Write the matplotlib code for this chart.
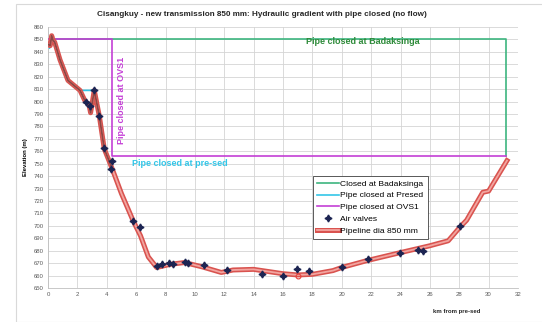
"""
Cisangkuy transmission 850 mm - hydraulic gradient with pipe closed (no flow)
"""

import matplotlib
matplotlib.use('Agg')
import matplotlib.pyplot as plt
import matplotlib.patheffects as pe
from matplotlib.patches import Rectangle
import numpy as np

plt.rcParams['font.family'] = ['Liberation Sans', 'DejaVu Sans']

# ---------- data ----------
pipe_km = np.array([0, 0.15, 0.25, 0.35, 0.45, 0.82, 1.36, 2.18, 2.5, 2.8, 2.9, 3.15, 3.5,
                    3.83, 4.2, 4.4, 5.0, 5.8, 6.3, 6.83, 7.4, 8.3, 9.3, 10.5, 11.8, 12.6,
                    14.0, 16.0, 17.0, 18.0, 19.4, 20.0, 21.7, 24.0, 26.0, 27.25, 28.05,
                    28.5, 29.6, 30.0, 31.25])
pipe_elev = np.array([846, 845, 853, 849, 848, 833.5, 817, 809, 801, 797, 791, 809, 788,
                      762, 751, 745, 726, 704, 692, 675, 666.5, 669, 670.5, 667, 662.5, 664.5,
                      665, 661.5, 660.5, 661, 664, 666.5, 672, 678.5, 684, 688, 699,
                      704.5, 727, 728, 752.5])

valve_km = [2.59, 2.86, 3.15, 3.49, 3.83, 4.29, 4.38, 5.81, 6.26, 7.4, 7.78, 8.23, 8.53,
            9.33, 9.5, 10.6, 12.16, 14.6, 16.0, 16.97, 17.8, 20.0, 21.8, 23.96, 25.17,
            25.55, 28.05]
valve_elev = [800, 796.5, 809, 788.5, 762.5, 746, 752.5, 704, 699, 667.5, 669, 670, 669,
              671, 670.5, 668.5, 664.5, 661.3, 660, 665, 663.5, 666.7, 673, 678.5, 680.5,
              680, 700]

marker_km = [17.0]
marker_elev = [659.7]

badaksinga_km = [0, 31.2, 31.2]
badaksinga_elev = [850, 850, 756]

presed_km = [0.1, 0.2, 0.35, 0.82, 1.36, 2.18, 3.15, 3.5, 3.8, 4.22]
presed_elev = [843, 849, 848, 833.5, 817, 809, 809, 788, 763, 752]

ovs1_km = [0, 4.33, 4.33, 31.2]
ovs1_elev = [850, 850, 756, 756]

# ---------- plot ----------
fig = plt.figure(figsize=(5.42, 3.22), dpi=100)
fig.patches.append(Rectangle((16 / 542, 0), 1.2, 1 - 4 / 322, transform=fig.transFigure,
                             fill=False, edgecolor='#D9D9D9', linewidth=0.8))
ax = fig.add_axes([48 / 542, 1 - 288 / 322, 470 / 542, 261 / 322])

ax.plot(badaksinga_km, badaksinga_elev, color='#3DB57F', linewidth=1.2, label='Closed at Badaksinga', zorder=2)
ax.plot(presed_km, presed_elev, color='#33C6E8', linewidth=1.2, label='Pipe closed at Presed', zorder=2)
ax.plot(ovs1_km, ovs1_elev, color='#C43FD6', linewidth=1.2, label='Pipe closed at OVS1', zorder=3)

ax.plot(pipe_km, pipe_elev, color='#F2A5A0', linewidth=1.3, label='Pipeline dia 850 mm', zorder=4,
        path_effects=[pe.Stroke(linewidth=3.6, foreground='#D9534F'), pe.Normal()])
# darker inner part of the pipeline near the start
near = pipe_km <= 4.4
ax.plot(pipe_km[near], pipe_elev[near], color='#8E4543', linewidth=1.3, zorder=4.5)

ax.plot(valve_km, valve_elev, linestyle='none', marker=(4, 1, 0), markersize=5,
        color='#1C2452', label='Air valves', zorder=5)
ax.plot(marker_km, marker_elev, linestyle='none', marker='o', markersize=3.5,
        markerfacecolor='none', markeredgecolor='#E8403A', markeredgewidth=0.8, zorder=5)

ax.text(17.6, 848, 'Pipe closed at Badaksinga', color='#2E8B3A', fontsize=6.5,
        fontweight='bold', ha='left', va='center')
ax.text(5.0, 801, 'Pipe closed at OVS1', color='#C43FD6', fontsize=6.5,
        fontweight='bold', rotation=90, ha='center', va='center')
ax.text(5.75, 750, 'Pipe closed at pre-sed', color='#33C6E8', fontsize=6.5,
        fontweight='bold', ha='left', va='center')

ax.set_xlim(0, 32)
ax.set_ylim(650, 860)
ax.set_xticks(np.arange(0, 33, 2))
ax.set_yticks(np.arange(650, 861, 10))
ax.tick_params(labelsize=4.3, labelcolor='#595959', length=0, pad=3)
ax.grid(True, color='#D4D4D4', linewidth=0.6)
ax.set_axisbelow(True)
for side in ['top', 'right']:
    ax.spines[side].set_visible(False)
for side in ['left', 'bottom']:
    ax.spines[side].set_color('#BFBFBF')
    ax.spines[side].set_linewidth(0.6)

ax.set_ylabel('Elevation (m)', fontsize=4.3, fontweight='bold', labelpad=4)

handles, labels = ax.get_legend_handles_labels()
order = [0, 1, 2, 4, 3]
leg = ax.legend([handles[i] for i in order], [labels[i] for i in order],
                loc='lower left', bbox_to_anchor=(0.564, 0.188), fontsize=6.1,
                frameon=True, fancybox=False, edgecolor='#404040', framealpha=1,
                handlelength=2.6, handletextpad=0.1, borderpad=0.5, labelspacing=0.45,
                borderaxespad=0)
leg.get_frame().set_linewidth(0.6)

fig.text(262 / 542, 1 - 15 / 322, 'Cisangkuy - new transmission 850 mm: Hydraulic gradient with pipe closed (no flow)',
         ha='center', va='center', fontsize=5.9, fontweight='bold', color='#262626')
fig.text(457 / 542, 1 - 312 / 322, 'km from pre-sed', ha='center', va='center',
         fontsize=4.3, fontweight='bold', color='#262626')

plt.savefig('out.png', dpi=100)
plt.close()
